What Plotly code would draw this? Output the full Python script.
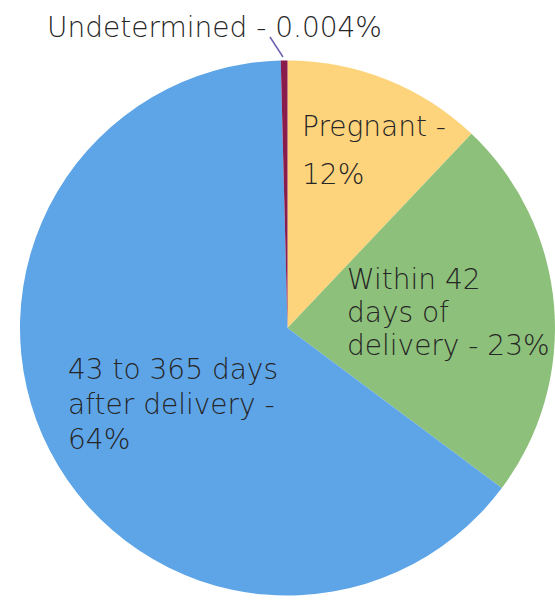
import plotly.graph_objects as go

categories = ["Pregnant", "Within 42 days of delivery", "43 to 365 days after delivery", "Undetermined"]
values = [12, 23, 64, 0.4]
colors = ["#FDD47C", "#8DC07A", "#5EA5E8", "#8A1C4C"]

label_lines = [
    (["Pregnant -", "12%"], 300, [126, 175]),
    (["Within 42", "days of", "delivery - 23%"], 345, [279, 312, 345]),
    (["43 to 365 days", "after delivery -", "64%"], 66, [369, 404, 439]),
    (["Undetermined - 0.004%"], 45, [28]),
]

W, H = 555, 601

fig = go.Figure(go.Pie(
    labels=categories,
    values=values,
    marker=dict(colors=colors, line=dict(width=0)),
    sort=False,
    direction="clockwise",
    rotation=0,
    textinfo="none",
    showlegend=False,
    domain=dict(x=[20 / W, 1.0], y=[4 / H, 542 / H]),
))

annotations = []
for lines, x0, ys in label_lines:
    for text, y in zip(lines, ys):
        annotations.append(dict(
            x=x0 / W, y=1 - y / H, xref="paper", yref="paper",
            text=text, showarrow=False, xanchor="left", yanchor="middle",
            font=dict(family="DejaVu Sans", size=28, color="#262626", weight=200),
        ))

fig.add_shape(type="line", xref="paper", yref="paper",
              x0=270 / W, y0=1 - 37 / H, x1=283 / W, y1=1 - 57 / H,
              line=dict(color="#6B5FB0", width=1.5))

fig.update_layout(
    width=W, height=H,
    margin=dict(l=0, r=0, t=0, b=0),
    paper_bgcolor="white", plot_bgcolor="white",
    annotations=annotations,
)

fig.write_html(
    "out.html",
    config={"displayModeBar": False},
    post_script="document.body.style.margin='0px';document.body.style.overflow='hidden';",
)
